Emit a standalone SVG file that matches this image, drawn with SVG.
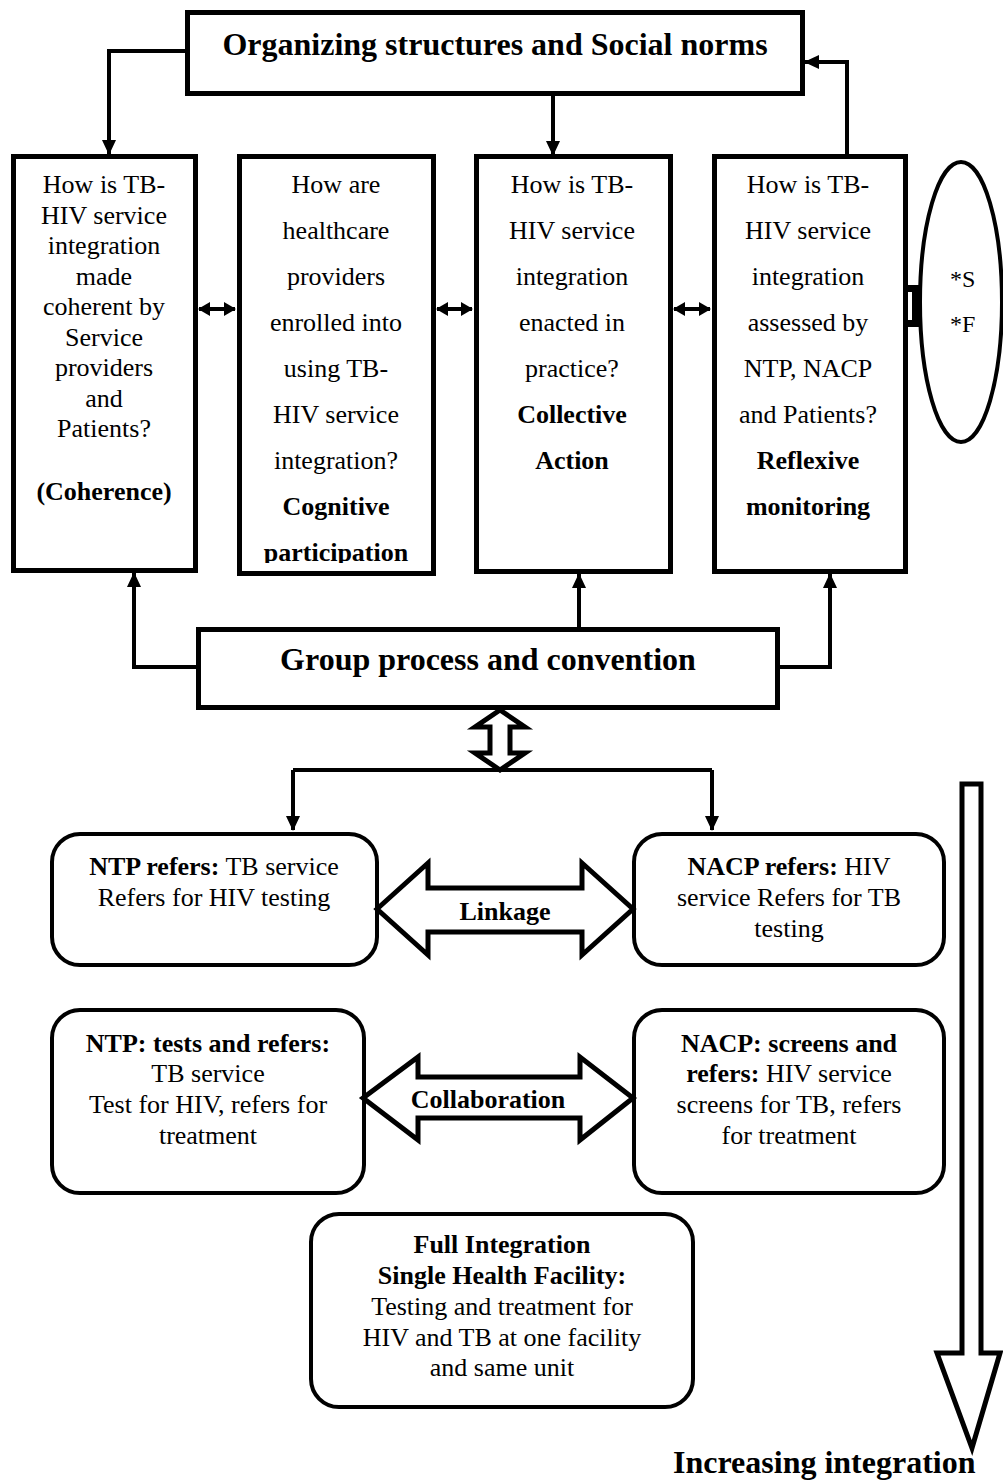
<svg xmlns="http://www.w3.org/2000/svg" width="1003" height="1480" viewBox="0 0 1003 1480">
<style>
text{font-family:"Liberation Serif","Times New Roman",serif;fill:#000}
.t{font-size:26px;text-anchor:middle}
.b{font-weight:bold}
.h{font-size:32px;font-weight:bold;text-anchor:middle}
.box{fill:#fff;stroke:#000;stroke-width:5}
.rbox{fill:#fff;stroke:#000;stroke-width:4}
.ln{fill:none;stroke:#000;stroke-width:4}
.hollow{fill:#fff;stroke:#000;stroke-width:5;stroke-linejoin:miter}
</style>
<defs>
<marker id="ah" markerUnits="userSpaceOnUse" markerWidth="16" markerHeight="16" refX="14" refY="8" orient="auto-start-reverse">
<path d="M0,1 L15,8 L0,15 z" fill="#000"/>
</marker>
<marker id="as" markerUnits="userSpaceOnUse" markerWidth="12" markerHeight="14" refX="11" refY="7" orient="auto-start-reverse">
<path d="M0,0 L12,7 L0,14 z" fill="#000"/>
</marker>
<clipPath id="clip2"><rect x="240" y="158" width="192" height="405"/></clipPath>
</defs>

<g id="connectors">
<path class="ln" d="M187,51 H109 V154" marker-end="url(#ah)"/>
<path class="ln" d="M553,94 V155" marker-end="url(#ah)"/>
<path class="ln" d="M847,156 V62 H805" marker-end="url(#ah)"/>
<path class="ln" d="M199,309 H235" marker-start="url(#as)" marker-end="url(#as)"/>
<path class="ln" d="M437,309 H472" marker-start="url(#as)" marker-end="url(#as)"/>
<path class="ln" d="M674,309 H710" marker-start="url(#as)" marker-end="url(#as)"/>
<path class="ln" d="M196,667 H134 V573" marker-end="url(#ah)"/>
<path class="ln" d="M579,627 V574" marker-end="url(#ah)"/>
<path class="ln" d="M778,667 H830 V574" marker-end="url(#ah)"/>
<path d="M903,285 H919 V327 H903 V320 H912 V292 H903 Z" fill="#000"/>
<polygon class="hollow" stroke-width="4" points="500,710 525,727 510,727 510,753 525,753 500,770 475,753 490,753 490,727 475,727"/>
<path class="ln" d="M293,770 H712"/>
<path class="ln" d="M293,770 V830" marker-end="url(#ah)"/>
<path class="ln" d="M712,770 V830" marker-end="url(#ah)"/>
<polygon class="hollow" points="962,784 981,784 981,1353 1000,1353 972,1448 937,1353 962,1353"/>
</g>

<g id="node-org">
<rect class="box" x="187.5" y="12.5" width="615" height="81"/>
<text class="h" x="495" y="55">Organizing structures and Social norms</text>
</g>

<g id="node-coherence">
<rect class="box" x="13.5" y="156.5" width="182" height="414"/>
<text class="t" x="104" y="193">How is TB-</text>
<text class="t" x="104" y="223.5">HIV service</text>
<text class="t" x="104" y="254">integration</text>
<text class="t" x="104" y="284.5">made</text>
<text class="t" x="104" y="315">coherent by</text>
<text class="t" x="104" y="345.5">Service</text>
<text class="t" x="104" y="376">providers</text>
<text class="t" x="104" y="406.5">and</text>
<text class="t" x="104" y="437">Patients?</text>
<text class="t b" x="104" y="500">(Coherence)</text>
</g>

<g id="node-cognitive">
<rect class="box" x="239.5" y="156.5" width="194" height="417"/>
<g clip-path="url(#clip2)">
<text class="t" x="336" y="193">How are</text>
<text class="t" x="336" y="239">healthcare</text>
<text class="t" x="336" y="285">providers</text>
<text class="t" x="336" y="331">enrolled into</text>
<text class="t" x="336" y="377">using TB-</text>
<text class="t" x="336" y="423">HIV service</text>
<text class="t" x="336" y="469">integration?</text>
<text class="t b" x="336" y="515">Cognitive</text>
<text class="t b" x="336" y="561">participation</text>
</g>
</g>

<g id="node-collective">
<rect class="box" x="476.5" y="156.5" width="194" height="415"/>
<text class="t" x="572" y="193">How is TB-</text>
<text class="t" x="572" y="239">HIV service</text>
<text class="t" x="572" y="285">integration</text>
<text class="t" x="572" y="331">enacted in</text>
<text class="t" x="572" y="377">practice?</text>
<text class="t b" x="572" y="423">Collective</text>
<text class="t b" x="572" y="469">Action</text>
</g>

<g id="node-reflexive">
<rect class="box" x="714.5" y="156.5" width="191" height="415"/>
<text class="t" x="808" y="193">How is TB-</text>
<text class="t" x="808" y="239">HIV service</text>
<text class="t" x="808" y="285">integration</text>
<text class="t" x="808" y="331">assessed by</text>
<text class="t" x="808" y="377">NTP, NACP</text>
<text class="t" x="808" y="423">and Patients?</text>
<text class="t b" x="808" y="469">Reflexive</text>
<text class="t b" x="808" y="515">monitoring</text>
</g>

<g id="node-sf">
<ellipse cx="961" cy="302" rx="41" ry="140" fill="#fff" stroke="#000" stroke-width="4"/>
<text x="950" y="287" style="font-size:24px">*S</text>
<text x="950" y="332" style="font-size:24px">*F</text>
</g>

<g id="node-group">
<rect class="box" x="198.5" y="629.5" width="579" height="78"/>
<text class="h" x="488" y="670">Group process and convention</text>
</g>

<g id="node-ntp-refers">
<rect class="rbox" x="52" y="834" width="325" height="131" rx="28"/>
<text class="t" x="214" y="875"><tspan class="b">NTP refers:</tspan> TB service</text>
<text class="t" x="214" y="906">Refers for HIV testing</text>
</g>

<g id="node-nacp-refers">
<rect class="rbox" x="634" y="834" width="310" height="131" rx="28"/>
<text class="t" x="789" y="875"><tspan class="b">NACP refers:</tspan> HIV</text>
<text class="t" x="789" y="906">service Refers for TB</text>
<text class="t" x="789" y="937">testing</text>
</g>

<g id="node-linkage">
<polygon class="hollow" points="377,909 428,863 428,888 582,888 582,863 633,909 582,955 582,932 428,932 428,955"/>
<text class="t b" x="505" y="920">Linkage</text>
</g>

<g id="node-ntp-collab">
<rect class="rbox" x="52" y="1010" width="312" height="183" rx="28"/>
<text class="t b" x="208" y="1052">NTP: tests and refers:</text>
<text class="t" x="208" y="1082">TB service</text>
<text class="t" x="208" y="1113">Test for HIV, refers for</text>
<text class="t" x="208" y="1144">treatment</text>
</g>

<g id="node-nacp-collab">
<rect class="rbox" x="634" y="1010" width="310" height="183" rx="28"/>
<text class="t b" x="789" y="1052">NACP: screens and</text>
<text class="t" x="789" y="1082"><tspan class="b">refers:</tspan> HIV service</text>
<text class="t" x="789" y="1113">screens for TB, refers</text>
<text class="t" x="789" y="1144">for treatment</text>
</g>

<g id="node-collaboration">
<polygon class="hollow" points="363,1098 418,1057 418,1077 580,1077 580,1057 633,1098 580,1140 580,1118 418,1118 418,1140"/>
<text class="t b" x="488" y="1108">Collaboration</text>
</g>

<g id="node-full">
<rect class="rbox" x="311" y="1214" width="382" height="193" rx="28"/>
<text class="t b" x="502" y="1253">Full Integration</text>
<text class="t b" x="502" y="1284">Single Health Facility:</text>
<text class="t" x="502" y="1315">Testing and treatment for</text>
<text class="t" x="502" y="1346">HIV and TB at one facility</text>
<text class="t" x="502" y="1376">and same unit</text>
</g>

<g id="node-increasing">
<text x="673" y="1473" style="font-size:32px;font-weight:bold">Increasing integration</text>
</g>
</svg>
